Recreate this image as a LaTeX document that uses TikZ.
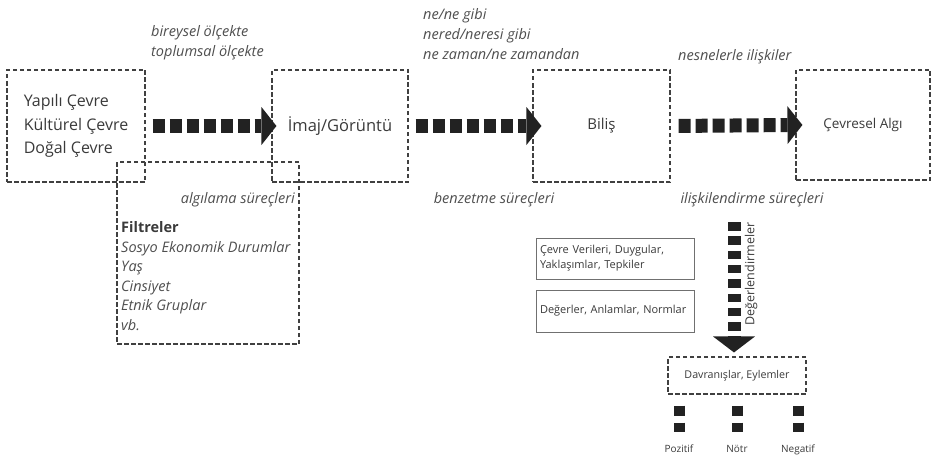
\documentclass[tikz,border=0pt]{standalone}
\usepackage{fontspec}
\setmainfont{Open Sans}
\usetikzlibrary{arrows.meta}
\definecolor{txt}{HTML}{3A3A3A}
\definecolor{lbl}{HTML}{4E4E4E}
\definecolor{arr}{HTML}{222222}
\definecolor{dsh}{HTML}{404040}
\definecolor{sln}{HTML}{707070}
\begin{document}
\begin{tikzpicture}[x=1pt,y=-1pt,
  dbox/.style={draw=dsh, line width=1.1pt, dash pattern=on 4.5pt off 2.5pt, inner sep=0pt, text=txt},
  sbox/.style={draw=sln, line width=0.8pt, inner sep=4pt, text width=150pt, align=left,
    font=\fontsize{11}{15}\selectfont, text=txt},
  lab/.style={font=\fontsize{14.5}{20}\selectfont\itshape, text=lbl, inner sep=0pt, align=left},
  harrow/.style={draw=arr, line width=14pt, dash pattern=on 12pt off 5pt,
    -{Triangle[length=15pt,width=38pt,line width=0pt]}, shorten <=7pt},
  varrow/.style={draw=arr, line width=13pt, dash pattern=on 8.5pt off 5.8pt,
    -{Triangle[length=16pt,width=42pt,line width=0pt]}, shorten >=4pt},
  outc/.style={draw=arr, line width=11pt, dash pattern=on 10pt off 7pt,
    shorten <=11pt, shorten >=20pt},
  small/.style={font=\fontsize{10}{11}\selectfont, text=txt, inner sep=0pt}
]
\useasboundingbox (0,0) rectangle (932,460);

% main dashed boxes
\node[dbox, minimum width=138pt, minimum height=112pt, align=left,
  font=\fontsize{16}{23.5}\selectfont] (b1) at (76,126) {Yapılı Çevre\\Kültürel Çevre\\Doğal Çevre};
\node[dbox, minimum width=136pt, minimum height=112pt,
  font=\fontsize{16.5}{20}\selectfont] (b2) at (340,126) {İmaj/Görüntü};
\node[dbox, minimum width=137pt, minimum height=112pt,
  font=\fontsize{15}{18}\selectfont] (b3) at (601.5,126) {Biliş};
\node[dbox, minimum width=134pt, minimum height=110pt,
  font=\fontsize{13.5}{16}\selectfont] (b4) at (863,125) {Çevresel Algı};

% filter box
\node[dbox, minimum width=182pt, minimum height=182pt] (fb) at (208,253) {};
\node[anchor=west, inner sep=0pt, align=left, font=\fontsize{14.5}{19.6}\selectfont, text=lbl] (fl) at (121,276)
  {\textcolor{txt}{\bfseries Filtreler}\\\textit{Sosyo Ekonomik Durumlar}\\\textit{Yaş}\\\textit{Cinsiyet}\\\textit{Etnik Gruplar}\\\textit{vb.}};

% italic labels
\node[lab, anchor=west] (l1) at (151,43) {bireysel ölçekte\\toplumsal ölçekte};
\node[lab, anchor=west] (l2) at (423,34.5) {ne/ne gibi\\nered/neresi gibi\\ne zaman/ne zamandan};
\node[lab, anchor=west] (l3) at (678,57) {nesnelerle ilişkiler};
\node[lab, anchor=east] (l4) at (295,200) {algılama süreçleri};
\node[lab] (l5) at (494,200) {benzetme süreçleri};
\node[lab] (l6) at (752,200) {ilişkilendirme süreçleri};

% horizontal block arrows
\draw[harrow, shorten >=-5pt] (b1.east) -- (b2.west);
\draw[harrow, shorten >=-9pt] (b2.east) -- (b3.west);
\draw[harrow, shorten <=8pt, shorten >=-7pt] (b3.east) -- (b4.west);

% solid boxes
\node[sbox, minimum height=41pt] (sA) at (615,258.5) {Çevre Verileri, Duygular,\\Yaklaşımlar, Tepkiler};
\node[sbox, minimum height=42pt] (sB) at (615,311) {Değerler, Anlamlar, Normlar};

% behaviour box
\node[dbox, minimum width=138pt, minimum height=37pt,
  font=\fontsize{10.7}{13}\selectfont] (dav) at (737,375.5) {Davranışlar, Eylemler};

% vertical arrow
\coordinate (vs) at (734,222);
\draw[varrow] (vs) -- (vs |- dav.north);
\node[rotate=90, font=\fontsize{12.5}{14}\selectfont, text=txt, inner sep=0pt] (deg) at (751,274) {Değerlendirmeler};

% outcomes
\node[small, anchor=base] (pz) at (679,452) {Pozitif};
\node[small, anchor=base] (nt) at (737,452) {Nötr};
\node[small, anchor=base] (ng) at (798,452) {Negatif};
\draw[outc] (dav.south -| pz) -- (pz.base);
\draw[outc] (dav.south -| nt) -- (nt.base);
\draw[outc] (dav.south -| ng) -- (ng.base);
\end{tikzpicture}
\end{document}
